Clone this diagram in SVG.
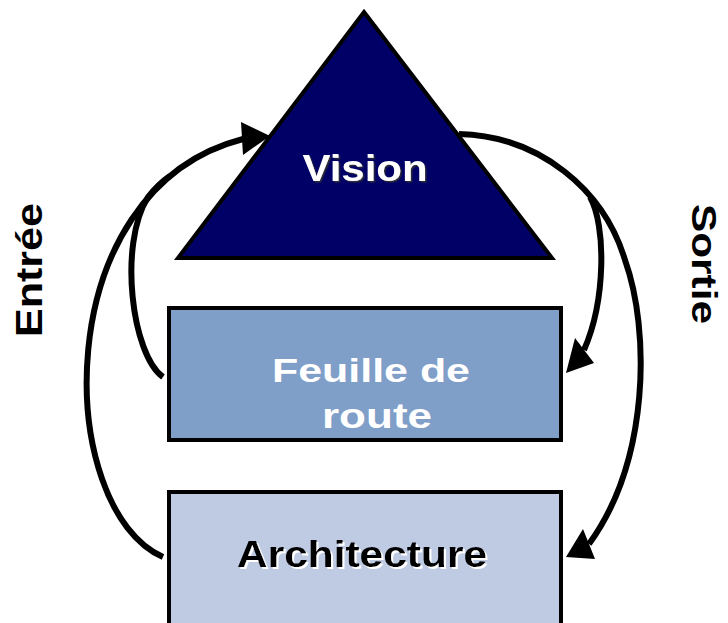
<svg xmlns="http://www.w3.org/2000/svg" width="728" height="623" viewBox="0 0 728 623">
<style>
.lbl{font-family:"Liberation Sans",Arial,sans-serif;font-weight:bold;text-anchor:middle}
.conn{fill:none;stroke:#000;stroke-width:6}
.arrow{fill:#000;stroke:none}
.node{stroke:#000;stroke-width:4}
</style>
<defs>
<filter id="shDark" x="-10%" y="-20%" width="130%" height="150%"><feDropShadow dx="1.5" dy="1.5" stdDeviation="0.6" flood-color="#333333" flood-opacity="0.9"/></filter>
<filter id="shLight" x="-10%" y="-20%" width="130%" height="150%"><feDropShadow dx="2" dy="2" stdDeviation="0.4" flood-color="#ffffff" flood-opacity="1"/></filter>
</defs>
<rect width="728" height="623" fill="#ffffff"/>
<g id="vision">
<polygon class="node" points="364,12 552,258 178,258" fill="#000066"/>
<text class="lbl" x="365" y="181" font-size="36" textLength="125" lengthAdjust="spacingAndGlyphs" fill="#ffffff" filter="url(#shDark)">Vision</text>
</g>
<g id="feuille">
<rect class="node" x="169" y="308" width="392" height="132" fill="#7F9EC8"/>
<text class="lbl" x="371" y="382" font-size="34" textLength="198" lengthAdjust="spacingAndGlyphs" fill="#ffffff">Feuille de</text>
<text class="lbl" x="377" y="428" font-size="35" textLength="110" lengthAdjust="spacingAndGlyphs" fill="#ffffff">route</text>
</g>
<g id="architecture">
<rect class="node" x="169" y="492" width="392" height="140" fill="#BFCBE3"/>
<text class="lbl" x="362" y="567" font-size="37" textLength="250" lengthAdjust="spacingAndGlyphs" fill="#000000" filter="url(#shLight)">Architecture</text>
</g>
<g id="entree">
<text class="lbl" transform="translate(42,270) rotate(-90)" font-size="37" textLength="134" lengthAdjust="spacingAndGlyphs" fill="#000000">Entrée</text>
</g>
<g id="sortie">
<text class="lbl" transform="translate(692,264) rotate(90)" font-size="35" textLength="120" lengthAdjust="spacingAndGlyphs" fill="#000000">Sortie</text>
</g>
<g id="connectors">
<path class="conn" d="M163,557 C55,510 45,190 243,139"/>
<path class="conn" d="M163,377 C132,355 118,245 148,197 C156,187 164,180 170,176"/>
<polygon class="arrow" points="241,122 270,136 243,155"/>
<path class="conn" d="M459,134 C540,136 604,190 625,260 C650,330 650,460 589,544"/>
<path class="conn" d="M590,197 C606,225 606,300 584,350"/>
<polygon class="arrow" points="575,338 594,363 566,373"/>
<polygon class="arrow" points="583,529 595,559 566,557"/>
</g>
</svg>
